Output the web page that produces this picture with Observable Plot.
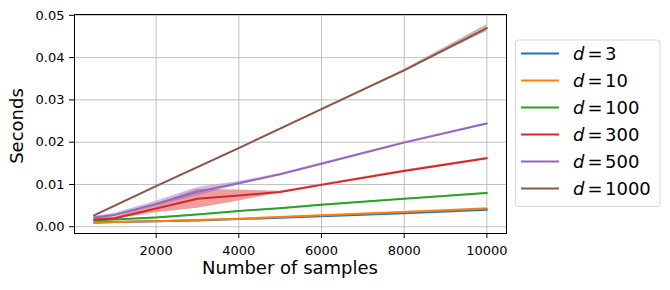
<!DOCTYPE html>
<html>
<head>
<meta charset="utf-8">
<script src="https://cdn.jsdelivr.net/npm/d3@7"></script>
<script src="https://cdn.jsdelivr.net/npm/@observablehq/plot@0.6"></script>
<style>
  html, body { margin: 0; padding: 0; background: white; }
  svg { display: block; }
</style>
</head>
<body>
<script>
// ---- data ----
const samples = [500, 1000, 2000, 3000, 4000, 5000, 6000, 8000, 10000];
const dims = [3, 10, 100, 300, 500, 1000];
const colors = ["#1f77b4", "#ff7f0e", "#2ca02c", "#d62728", "#9467bd", "#8c564b"];

const secD3    = [0.0010, 0.0011, 0.0013, 0.0015, 0.0018, 0.0021, 0.0025, 0.0032, 0.0040];
const secD10   = [0.0009, 0.0011, 0.0013, 0.0016, 0.0019, 0.0023, 0.0027, 0.0035, 0.0043];
const secD100  = [0.0015, 0.0017, 0.0022, 0.0029, 0.0037, 0.0044, 0.0052, 0.0066, 0.0080];
const secD300  = [0.0017, 0.0020, 0.0043, 0.0066, 0.0074, 0.0082, 0.0099, 0.0132, 0.0162];
const secD500  = [0.0022, 0.0028, 0.0054, 0.0083, 0.0103, 0.0124, 0.0149, 0.0199, 0.0244];
const secD1000 = [0.0027, 0.0050, 0.0096, 0.0141, 0.0186, 0.0232, 0.0278, 0.0370, 0.0470];

const sdD3    = [0.0001, 0.0001, 0.0001, 0.0001, 0.0001, 0.0001, 0.0001, 0.0001, 0.0001];
const sdD10   = [0.0001, 0.0001, 0.0001, 0.0001, 0.0001, 0.0001, 0.0001, 0.0001, 0.0002];
const sdD100  = [0.0001, 0.0001, 0.0001, 0.0001, 0.0001, 0.0001, 0.0001, 0.0001, 0.0001];
const sdD300  = [0.0003, 0.0003, 0.0010, 0.0022, 0.0013, 0.0002, 0.0002, 0.0002, 0.0002];
const sdD500  = [0.0003, 0.0004, 0.0006, 0.0010, 0.0004, 0.0002, 0.0002, 0.0002, 0.0002];
const sdD1000 = [0.0001, 0.0001, 0.0001, 0.0001, 0.0001, 0.0001, 0.0001, 0.0002, 0.0008];

const xTicks = [2000, 4000, 6000, 8000, 10000];
const yTicks = [0, 0.01, 0.02, 0.03, 0.04, 0.05];
const xLabel = "Number of samples";
const yLabel = "Seconds";

// ---- table ----
const means = [secD3, secD10, secD100, secD300, secD500, secD1000];
const sds = [sdD3, sdD10, sdD100, sdD300, sdD500, sdD1000];
const rows = [];
dims.forEach((d, k) => {
  samples.forEach((x, i) => {
    rows.push({d, x, y: means[k][i], lo: means[k][i] - sds[k][i], hi: means[k][i] + sds[k][i]});
  });
});

const font = "DejaVu Sans, sans-serif";
const bands = dims.map((d, k) =>
  Plot.areaY(rows.filter(r => r.d === d), {x: "x", y1: "lo", y2: "hi", fill: colors[k], fillOpacity: 0.45}));
const lines = dims.map((d, k) =>
  Plot.line(rows.filter(r => r.d === d), {x: "x", y: "y", stroke: colors[k], strokeWidth: 2}));

const chart = Plot.plot({
  width: 670,
  height: 290,
  marginLeft: 74,
  marginRight: 164,
  marginTop: 14,
  marginBottom: 57,
  style: {fontFamily: font, fontSize: "13px", background: "white", color: "black"},
  x: {domain: [25, 10475]},
  y: {domain: [-0.0016, 0.0502]},
  marks: [
    ...bands,
    Plot.gridX(xTicks, {stroke: "#b0b0b0", strokeOpacity: 1, strokeWidth: 0.8}),
    Plot.gridY(yTicks, {stroke: "#b0b0b0", strokeOpacity: 1, strokeWidth: 0.8}),
    ...lines,
    Plot.frame({stroke: "black", strokeWidth: 1}),
    Plot.axisX(xTicks, {tickFormat: "d", tickSize: 5, tickPadding: 7, label: null, fontSize: 13}),
    Plot.axisY(yTicks, {tickFormat: ".2f", tickSize: 5, tickPadding: 5, label: null, fontSize: 13})
  ]
});
document.body.appendChild(chart);

const svg = d3.select(chart);
// axis labels
svg.append("text")
  .attr("x", 290).attr("y", 274)
  .attr("text-anchor", "middle")
  .attr("font-family", font).attr("font-size", 18).attr("fill", "black")
  .text(xLabel);
svg.append("text")
  .attr("transform", "translate(23,126) rotate(-90)")
  .attr("text-anchor", "middle")
  .attr("font-family", font).attr("font-size", 18).attr("fill", "black")
  .text(yLabel);

// legend
const lg = svg.append("g").attr("text-anchor", "start");
lg.append("rect")
  .attr("x", 515.5).attr("y", 40).attr("width", 144.5).attr("height", 166.5)
  .attr("rx", 3).attr("fill", "white").attr("stroke", "#d6d6d6").attr("stroke-width", 1);
dims.forEach((d, k) => {
  const cy = 53.5 + k * 27;
  lg.append("line").attr("x1", 521).attr("x2", 559).attr("y1", cy).attr("y2", cy)
    .attr("stroke", colors[k]).attr("stroke-width", 2);
  const t = lg.append("text").attr("y", cy + 6.5).attr("text-anchor", "start")
    .attr("font-family", font).attr("font-size", 18).attr("fill", "black");
  t.append("tspan").attr("x", 573).attr("font-style", "italic").text("d");
  t.append("tspan").attr("x", 587.5).text("=");
  t.append("tspan").attr("x", 605).text(String(d));
});
</script>
</body>
</html>
